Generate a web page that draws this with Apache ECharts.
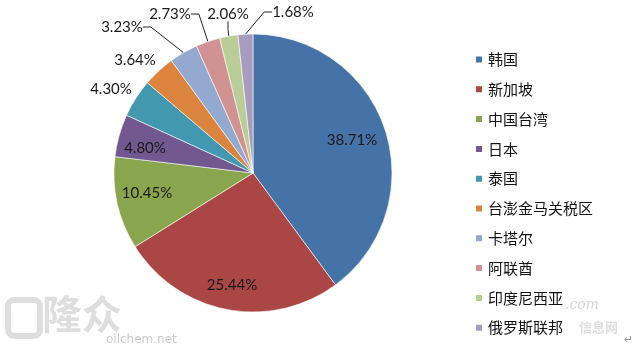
<!DOCTYPE html>
<html>
<head>
<meta charset="utf-8">
<script src="https://cdn.jsdelivr.net/npm/echarts@6/dist/echarts.min.js"></script>
<style>
  html, body { margin: 0; padding: 0; background: #fff; }
  #chart { width: 640px; height: 353px; }
</style>
</head>
<body>
<div id="chart"></div>
<script>
const countries = ['韩国', '新加坡', '中国台湾', '日本', '泰国', '台澎金马关税区', '卡塔尔', '阿联酋', '印度尼西亚', '俄罗斯联邦'];
const shares = [38.71, 25.44, 10.45, 4.80, 4.30, 3.64, 3.23, 2.73, 2.06, 1.68];
const colors = ['#4572A7', '#AA4643', '#89A54E', '#71588F', '#4198AF', '#DB843D', '#93A9CF', '#D19392', '#B9CD96', '#A99BBD'];

// label anchor spots (center of text) for each slice
const labelSpots = [
  [352, 140], [232, 285], [147, 193], [145, 148], [111, 89],
  [135, 60], [122, 27], [170, 14], [228, 14], [293, 12]
];
const innerCount = 4;
const noLine = [4, 5];

const data = countries.map((name, i) => ({
  name,
  value: shares[i],
  itemStyle: { color: colors[i] },
  label: { position: i < innerCount ? 'inside' : 'outside' },
  labelLine: { show: i >= innerCount && noLine.indexOf(i) < 0 }
}));

const chart = echarts.init(document.getElementById('chart'), null, { renderer: 'canvas' });
chart.setOption({
  animation: false,
  backgroundColor: '#ffffff',
  legend: {
    orient: 'vertical',
    left: 469,
    top: 47,
    icon: 'rect',
    itemWidth: 8,
    itemHeight: 8,
    itemGap: 14.8,
    textStyle: {
      fontFamily: 'Noto Sans CJK SC',
      fontSize: 15,
      lineHeight: 15,
      color: '#111'
    },
    data: countries
  },
  graphic: [
    {
      type: 'text', left: 42, top: 294,
      style: { text: '隆众', font: 'bold 40px "Noto Sans CJK SC"', fill: 'rgba(190,190,190,0.5)' }
    },
    {
      type: 'rect', shape: { x: 8, y: 300, width: 32, height: 36, r: 6 },
      style: { fill: 'none', stroke: 'rgba(190,190,190,0.5)', lineWidth: 6 }
    },
    {
      type: 'text', left: 106, top: 334,
      style: { text: 'oilchem.net', font: '12px "DejaVu Sans"', fill: 'rgba(180,180,180,0.7)' }
    },
    {
      type: 'text', left: 565, top: 298,
      style: { text: '.com', font: 'italic 14px "DejaVu Serif"', fill: 'rgba(170,170,170,0.5)' }
    },
    {
      type: 'text', left: 579, top: 321,
      style: { text: '信息网', font: 'bold 13px "Noto Sans CJK SC"', fill: 'rgba(200,200,200,0.6)' }
    },
    {
      type: 'text', left: 624, top: 335,
      style: { text: '↵', font: '11px "DejaVu Sans"', fill: '#999' }
    }
  ],
  series: [{
    type: 'pie',
    center: [253, 173],
    radius: 139,
    startAngle: 90,
    clockwise: true,
    avoidLabelOverlap: false,
    itemStyle: { borderColor: '#ffffff', borderWidth: 0.6 },
    label: {
      formatter: p => p.value.toFixed(2) + '%',
      fontFamily: 'Lato',
      fontSize: 15,
      color: '#1a1a1a'
    },
    labelLine: {
      length: 10,
      length2: 8,
      lineStyle: { color: '#222', width: 1 }
    },
    labelLayout: p => ({
      x: labelSpots[p.dataIndex][0],
      y: labelSpots[p.dataIndex][1],
      align: 'center',
      verticalAlign: 'middle'
    }),
    data
  }]
});
</script>
</body>
</html>
